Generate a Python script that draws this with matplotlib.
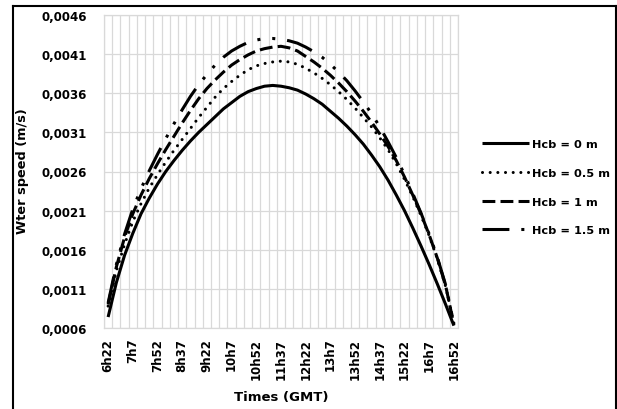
from __future__ import annotations

import matplotlib

matplotlib.use("Agg")

import matplotlib.pyplot as plt
from matplotlib.lines import Line2D


# time labels (every 3rd category = every 45 min, data every 15 min)
TIME_LABELS = [
    "6h22", "7h7", "7h52", "8h37", "9h22", "10h7", "10h52", "11h37",
    "12h22", "13h7", "13h52", "14h37", "15h22", "16h7", "16h52",
]
N_POINTS = 43

Y_TICKS = [0.0006, 0.0011, 0.0016, 0.0021, 0.0026, 0.0031, 0.0036, 0.0041, 0.0046]
Y_LABELS = ["0,0006", "0,0011", "0,0016", "0,0021", "0,0026", "0,0031", "0,0036", "0,0041", "0,0046"]

SERIES_NAMES = ["Hcb = 0 m", "Hcb = 0.5 m", "Hcb = 1 m", "Hcb = 1.5 m"]

hcb_0 = [
    0.00074, 0.00118, 0.00153, 0.00181, 0.00206, 0.00226, 0.00244, 0.00260, 0.00274,
    0.00287, 0.00299, 0.00310, 0.00320, 0.00330, 0.00340, 0.00348, 0.00356, 0.00362,
    0.00366, 0.00369, 0.00370, 0.00369, 0.00367, 0.00364, 0.00359, 0.00353, 0.00346,
    0.00337, 0.00328, 0.00318, 0.00307, 0.00295, 0.00281, 0.00266, 0.00249, 0.00230,
    0.00210, 0.00188, 0.00165, 0.00141, 0.00116, 0.00090, 0.00063,
]
hcb_05 = [
    0.00088, 0.00133, 0.00167, 0.00196, 0.00219, 0.00239, 0.00256, 0.00272, 0.00287,
    0.00301, 0.00315, 0.00329, 0.00342, 0.00355, 0.00366, 0.00375, 0.00383, 0.00390,
    0.00395, 0.00398, 0.00400, 0.00401, 0.00400, 0.00397, 0.00392, 0.00386, 0.00379,
    0.00371, 0.00362, 0.00352, 0.00341, 0.00329, 0.00317, 0.00303, 0.00288, 0.00270,
    0.00250, 0.00228, 0.00204, 0.00178, 0.00148, 0.00113, 0.00066,
]
hcb_1 = [
    0.00090, 0.00138, 0.00176, 0.00206, 0.00230, 0.00251, 0.00270, 0.00288, 0.00305,
    0.00322, 0.00338, 0.00353, 0.00366, 0.00377, 0.00387, 0.00396, 0.00403, 0.00409,
    0.00414, 0.00417, 0.00419, 0.00420, 0.00418, 0.00414, 0.00407, 0.00400, 0.00392,
    0.00383, 0.00373, 0.00362, 0.00350, 0.00337, 0.00323, 0.00308, 0.00292, 0.00274,
    0.00253, 0.00230, 0.00206, 0.00179, 0.00149, 0.00114, 0.00064,
]
hcb_15 = [
    0.00092, 0.00141, 0.00180, 0.00212, 0.00238, 0.00261, 0.00282, 0.00302, 0.00321,
    0.00339, 0.00356, 0.00371, 0.00384, 0.00396, 0.00406, 0.00414, 0.00420, 0.00425,
    0.00428, 0.00430, 0.00430, 0.00429, 0.00427, 0.00424, 0.00419, 0.00413, 0.00406,
    0.00397, 0.00387, 0.00376, 0.00363, 0.00349, 0.00334, 0.00317, 0.00298, 0.00278,
    0.00256, 0.00232, 0.00207, 0.00180, 0.00150, 0.00115, 0.00065,
]

W, H = 617, 410
GRID = "#d9d9d9"
LW = 2.2


def fx(px: float) -> float:
    return px / W


def fy(py: float) -> float:
    return 1 - py / H


def make_chart() -> None:
    fig = plt.figure(figsize=(W / 100, H / 100), dpi=100)
    ax = fig.add_axes([fx(104), fy(329), fx(458) - fx(104), fy(16) - fy(329)])

    x = list(range(N_POINTS))
    styles = [
        dict(linestyle="-", solid_capstyle="butt"),
        dict(linestyle=(0, (0.01, 2.5)), dash_capstyle="round"),
        dict(linestyle=(0, (4.2, 1.7)), dash_capstyle="butt"),
        dict(linestyle=(0, (8.8, 3.9, 1, 3.9, 1, 3.9)), dash_capstyle="butt"),
    ]
    for values, name, st in zip([hcb_0, hcb_05, hcb_1, hcb_15], SERIES_NAMES, styles):
        ax.plot(x, values, color="black", lw=LW, label=name, **st)

    ax.set_xlim(-0.5, N_POINTS - 0.5)
    ax.set_ylim(Y_TICKS[0], Y_TICKS[-1])
    ax.set_yticks(Y_TICKS)
    ax.set_yticklabels(Y_LABELS)
    ax.set_xticks(list(range(0, N_POINTS, 3)))
    ax.set_xticklabels(TIME_LABELS, rotation=90)
    ax.set_xticks([i + 0.5 for i in range(-1, N_POINTS)], minor=True)
    ax.tick_params(axis="both", which="both", length=0)
    ax.tick_params(axis="y", pad=12.5)
    ax.tick_params(axis="x", pad=7)
    for lab in ax.get_xticklabels() + ax.get_yticklabels():
        lab.set_fontsize(8.5)
        lab.set_fontweight("bold")

    ax.grid(True, axis="y", which="major", color=GRID, lw=0.9)
    ax.grid(True, axis="x", which="minor", color=GRID, lw=0.9)
    ax.set_axisbelow(True)
    for sp in ax.spines.values():
        sp.set_color(GRID)
        sp.set_linewidth(0.9)

    fig.text(fx(281), fy(398), "Times (GMT)", ha="center", va="center",
             fontsize=9.5, fontweight="bold")
    fig.text(fx(23), fy(171), "Wter speed (m/s)", ha="center", va="center",
             rotation=90, fontsize=9.3, fontweight="bold")

    leg = ax.legend(
        loc="upper left", bbox_to_anchor=(fx(482), fy(140)), bbox_transform=fig.transFigure,
        frameon=False, borderpad=0, borderaxespad=0, handlelength=4.1, handletextpad=0.3,
        labelspacing=1.65, prop={"size": 8.2, "weight": "bold"},
    )
    for line in leg.get_lines():
        line.set_linewidth(LW)

    # outer frame of the figure box
    for xs, ys in [([12.5, 12.5], [H, 7]), ([12.5, 615.5], [7, 7]), ([615.5, 615.5], [7, H])]:
        fig.add_artist(Line2D([fx(v) for v in xs], [fy(v) for v in ys], color="black", lw=1.5))

    fig.savefig("out.png", dpi=100)
    plt.close(fig)


def main() -> None:
    make_chart()


if __name__ == "__main__":
    main()
